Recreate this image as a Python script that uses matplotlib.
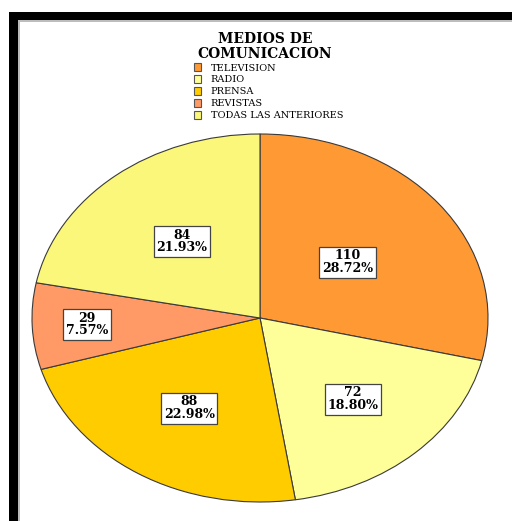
import numpy as np
import matplotlib
matplotlib.use("Agg")
import matplotlib.pyplot as plt
from matplotlib.patches import Rectangle, Patch

# Survey results: preferred communication media
categories = ["TELEVISION", "RADIO", "PRENSA", "REVISTAS", "TODAS LAS ANTERIORES"]
counts = [110, 72, 88, 29, 84]
percent_labels = ["28.72%", "18.80%", "22.98%", "7.57%", "21.93%"]
title_text = "MEDIOS DE\nCOMUNICACION"

colors = ["#FF9933", "#FFFF99", "#FFCC00", "#FF9966", "#FBF77A"]
# radial position of each value box (fraction of the radius)
label_radius = [0.49, 0.60, 0.58, 0.76, 0.54]

W, H = 512, 521
fig = plt.figure(figsize=(W / 100, H / 100), dpi=100)
fig.patch.set_facecolor("white")


def fx(px):
    return px / W


def fy(py):
    return 1 - py / H


# page frame: thick black rule on the left and top, thin grey rule inside
fig.add_artist(Rectangle((fx(9), 0), fx(9), fy(12), transform=fig.transFigure,
                         facecolor="black", edgecolor="none"))
fig.add_artist(Rectangle((fx(9), fy(20)), 1, fy(12) - fy(20), transform=fig.transFigure,
                         facecolor="black", edgecolor="none"))
fig.add_artist(Rectangle((fx(18), 0), fx(2), fy(20), transform=fig.transFigure,
                         facecolor="#BDBDBD", edgecolor="none"))
fig.add_artist(Rectangle((fx(18), fy(22)), 1, fy(20) - fy(22), transform=fig.transFigure,
                         facecolor="#BDBDBD", edgecolor="none"))

# pie drawn in a stretched box so it renders as an ellipse
ax = fig.add_axes([fx(32), fy(502), fx(488) - fx(32), fy(134) - fy(502)])
wedges, _ = ax.pie(counts, colors=colors, startangle=90, counterclock=False,
                   radius=1.0, wedgeprops=dict(edgecolor="#3a3a3a", linewidth=0.8))
ax.set_aspect("auto")
ax.set_xlim(-1, 1)
ax.set_ylim(-1, 1)
ax.axis("off")

for w, n, p, r in zip(wedges, counts, percent_labels, label_radius):
    mid = np.deg2rad((w.theta1 + w.theta2) / 2)
    ax.text(r * np.cos(mid), r * np.sin(mid), f"{n}\n{p}",
            ha="center", va="center", family="DejaVu Serif", fontweight="bold",
            fontsize=9, linespacing=0.95, color="black",
            bbox=dict(boxstyle="square,pad=0.22", facecolor="white",
                      edgecolor="#444444", linewidth=0.9))

fig.text(fx(265), fy(32), title_text, ha="center", va="top",
         family="DejaVu Serif", fontweight="bold", fontsize=10, linespacing=1.05)

handles = [Patch(facecolor=c, edgecolor="#555555", linewidth=0.8) for c in colors]
fig.legend(handles, categories, loc="upper left",
           bbox_to_anchor=(fx(194), fy(63)), bbox_transform=fig.transFigure,
           frameon=False, borderpad=0, borderaxespad=0,
           prop=dict(family="DejaVu Serif", size=7),
           handlelength=0.75, handleheight=0.95, handletextpad=0.95,
           labelspacing=0.25)

fig.savefig("out.png", dpi=100, facecolor="white")
